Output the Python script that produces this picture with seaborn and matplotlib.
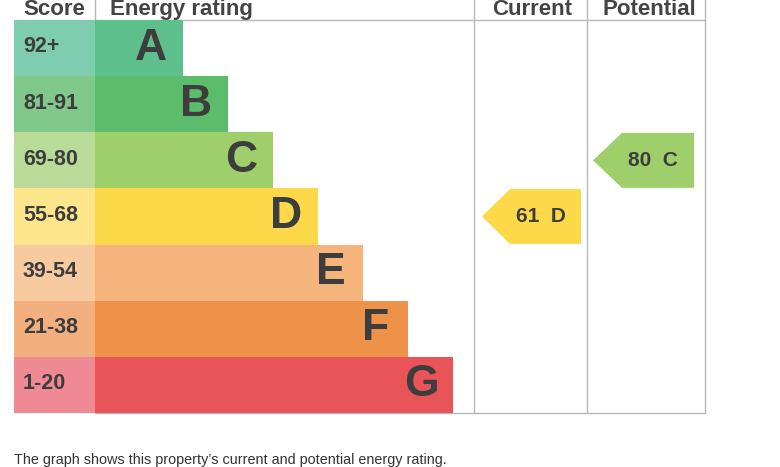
import matplotlib
matplotlib.use('Agg')
import matplotlib.pyplot as plt
from matplotlib.patches import Polygon
import seaborn as sns
import pandas as pd

sns.set_theme(style='white')
plt.rcParams['font.family'] = ['Liberation Sans', 'DejaVu Sans']

# ── data ──────────────────────────────────────────────
bands        = ['A', 'B', 'C', 'D', 'E', 'F', 'G']
score_ranges = ['92+', '81-91', '69-80', '55-68', '39-54', '21-38', '1-20']
band_min     = [92, 81, 69, 55, 39, 21, 1]
bar_len      = [88, 133, 178, 223, 268, 313, 358]   # bar length in px
score_colors = ['#7fcdb0', '#80c98a', '#b8dc98', '#fde58c', '#f8caa0', '#f3b07f', '#ef8a95']
bar_colors   = ['#5dbf8c', '#5bbd6b', '#9fcf6b', '#fdd94a', '#f5b47b', '#ee924a', '#e85457']
current_val   = 61
potential_val = 80

W, H = 780, 467
TXT = '#3d3d3d'
LINE = '#b8b8b8'

fig = plt.figure(figsize=(W / 100, H / 100), dpi=100)
fig.patch.set_facecolor('white')


def px_axes(x0, y0, x1, y1):
    return fig.add_axes([x0 / W, 1 - y1 / H, (x1 - x0) / W, (y1 - y0) / H])


def band_of(v):
    for i, m in enumerate(band_min):
        if v >= m:
            return i
    return len(bands) - 1


df = pd.DataFrame({'band': bands, 'score': score_ranges, 'len': bar_len, 'one': 1})

# overlay for lines and headers
ov = px_axes(0, 0, W, H)
ov.set_xlim(0, W); ov.set_ylim(H, 0); ov.axis('off')
for x in [474, 587, 705]:
    ov.plot([x, x], [0, 413], color=LINE, lw=1, zorder=0)
ov.plot([95, 95], [0, 20], color=LINE, lw=1, zorder=0)
ov.plot([95, 705], [20, 20], color=LINE, lw=1, zorder=0)
ov.plot([95, 705], [413, 413], color=LINE, lw=1, zorder=0)
hdr = dict(fontsize=16, fontweight='bold', color='#444444', va='baseline')
ov.text(54, 15, 'Score', ha='center', **hdr)
ov.text(110, 15, 'Energy rating', ha='left', **hdr)
ov.text(532, 15, 'Current', ha='center', **hdr)
ov.text(649, 15, 'Potential', ha='center', **hdr)
ov.text(14, 464, "The graph shows this property\u2019s current and potential energy rating.",
        fontsize=10.4, color='#333333', va='baseline')

# score column
ax_s = px_axes(14, 20, 95, 413)
sns.barplot(data=df, y='band', x='one', hue='band', palette=score_colors, saturation=1,
            width=1, linewidth=0, legend=False, ax=ax_s, orient='h')
ax_s.set_xlim(0, 1); ax_s.set_ylim(6.5, -0.5); ax_s.axis('off')
for i, s in enumerate(score_ranges):
    ax_s.text(0.11, i - 0.02, s, fontsize=15.5, fontweight='bold', color=TXT, va='center')

# rating bars
ax_b = px_axes(95, 20, 705, 413)
ax_b.patch.set_alpha(0)
sns.barplot(data=df, y='band', x='len', hue='band', palette=bar_colors, saturation=1,
            width=1, linewidth=0, legend=False, ax=ax_b, orient='h')
ax_b.set_xlim(0, 610); ax_b.set_ylim(6.5, -0.5); ax_b.axis('off')
for i, (b, L) in enumerate(zip(bands, bar_len)):
    ax_b.text(L - 32, i, b, fontsize=32, fontweight='bold', color=TXT,
              ha='center', va='center')


def arrow(ax, val, tip, notch, right):
    i = band_of(val)
    h = 0.49
    poly = Polygon([(tip, i), (notch, i - h), (right, i - h), (right, i + h), (notch, i + h)],
                   closed=True, facecolor=bar_colors[i], edgecolor='none')
    ax.add_patch(poly)
    ax.text((tip + right) / 2 + 9, i, f'{val}  {bands[i]}', fontsize=15, fontweight='bold',
            color=TXT, ha='center', va='center')


arrow(ax_b, current_val, 387, 415, 486)
arrow(ax_b, potential_val, 498, 527, 599)

fig.savefig('out.png', dpi=100, facecolor='white')
